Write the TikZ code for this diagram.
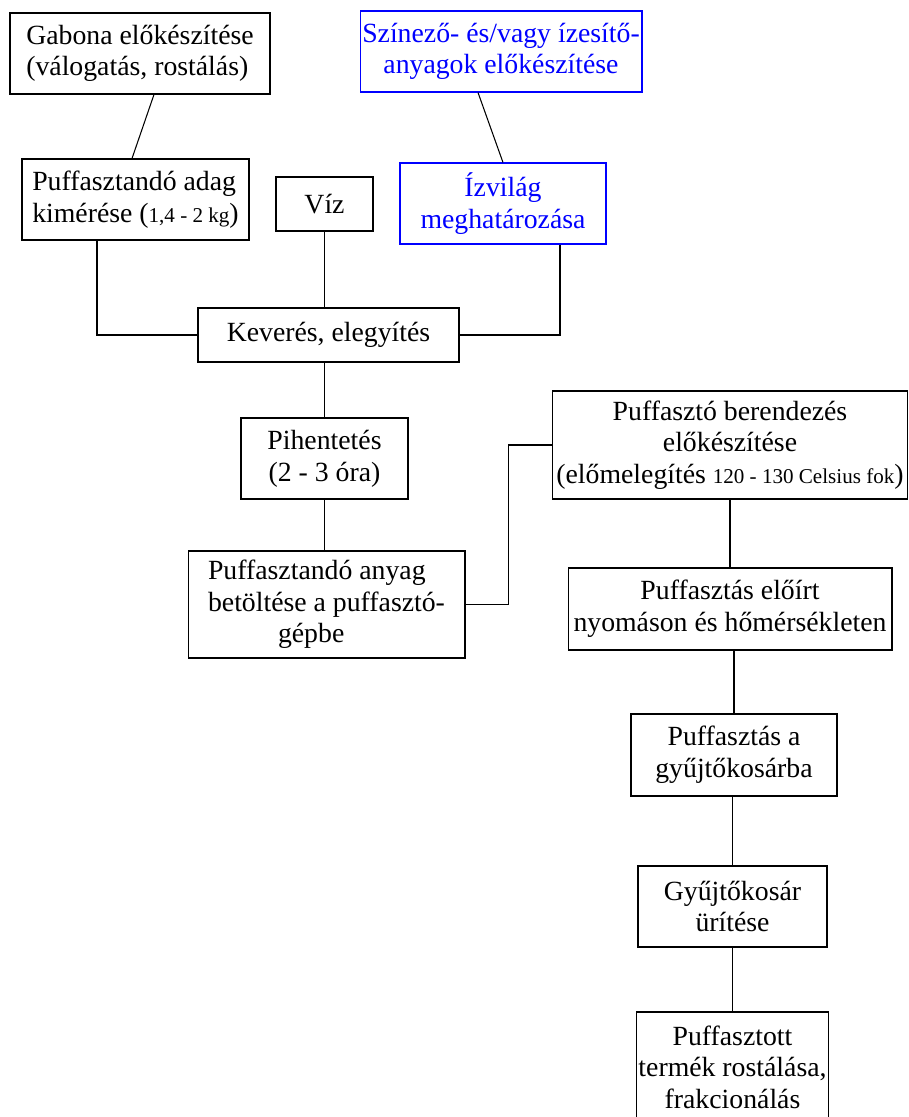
\documentclass[tikz,border=0pt]{standalone}
\usepackage{fontspec}
\setmainfont{Liberation Serif}
\usepackage{tikz}
\newcommand{\kis}[1]{{\fontsize{12}{14}\selectfont #1}}
\tikzset{box/.style={draw, line width=0.6pt, inner sep=1pt,
  font=\fontsize{15.8}{18}\selectfont},
  bluebox/.style={box, draw=blue, text=blue},
  link/.style={line width=0.6pt}}

\begin{document}
\begin{tikzpicture}[x=0.02cm, y=-0.02cm]
  \useasboundingbox (0,0) rectangle (909,1117);
  \node[box, align=left, minimum width=5.2cm, minimum height=1.62cm] (gabona) at (140,53.5)
    {Gabona előkészítése\\(válogatás, rostálás)};
  \node[bluebox, align=center, minimum width=5.64cm, minimum height=1.62cm] (szinezo) at (501,51.5)
    {Színező- és/vagy ízesítő-\\anyagok előkészítése};
  \node[box, align=left, minimum width=4.54cm, minimum height=1.62cm] (adag) at (135.5,199.5)
    {Puffasztandó adag\\kimérése (\kis{1,4 - 2 kg})};
  \node[box, minimum width=1.94cm, minimum height=1.08cm] (viz) at (324.5,204) {Víz};
  \node[bluebox, align=center, minimum width=4.12cm, minimum height=1.62cm] (izvilag) at (503,203.5)
    {Ízvilág\\meghatározása};
  \node[box, minimum width=5.22cm, minimum height=1.08cm] (keveres) at (328.5,335)
    {Keverés, elegyítés};
  \node[box, align=center, minimum width=3.34cm, minimum height=1.62cm] (pihen) at (324.5,458.5)
    {Pihentetés\\(2 - 3 óra)};
  \node[box, align=left, minimum width=5.54cm, minimum height=2.14cm] (betolt) at (326.5,604.5)
    {Puffasztandó anyag\\betöltése a puffasztó-\\\hspace*{1.4cm}gépbe};
  \node[box, align=center, minimum width=7.12cm, minimum height=2.16cm] (berend) at (730,445)
    {Puffasztó berendezés\\előkészítése\\(előmelegítés \kis{120 - 130 Celsius fok})};
  \node[box, align=center, minimum width=6.48cm, minimum height=1.64cm] (eloirt) at (730,609)
    {Puffasztás előírt\\nyomáson és hőmérsékleten};
  \node[box, align=center, minimum width=4.12cm, minimum height=1.64cm] (gyujto) at (734,755)
    {Puffasztás a\\gyűjtőkosárba};
  \node[box, align=center, minimum width=3.78cm, minimum height=1.62cm] (urites) at (732.5,906.5)
    {Gyűjtőkosár\\ürítése};
  \node[box, align=center, minimum width=3.78cm, minimum height=2.2cm] (rostal) at (732.5,1067)
    {Puffasztott\\termék rostálása,\\frakcionálás};

  \draw[link] ([xshift=0.28cm]gabona.south) -- ([xshift=-0.07cm]adag.north);
  \draw[link] ([xshift=-0.46cm]szinezo.south) -- (izvilag.north);
  \draw[link] ([xshift=-0.77cm]adag.south) |- (keveres.west);
  \draw[link] (viz.south) -- (viz.south |- keveres.north);
  \draw[link] ([xshift=1.14cm]izvilag.south) |- (keveres.east);
  \draw[link] (pihen.north |- keveres.south) -- (pihen.north);
  \draw[link] (pihen.south) -- (pihen.south |- betolt.north);
  \draw[link] (betolt.east) -- ++(43,0) |- (berend.west);
  \draw[link] (berend.south) -- (eloirt.north);
  \draw[link] (gyujto.north |- eloirt.south) -- (gyujto.north);
  \draw[link] (urites.north |- gyujto.south) -- (urites.north);
  \draw[link] (urites.south) -- (rostal.north);
\end{tikzpicture}
\end{document}
